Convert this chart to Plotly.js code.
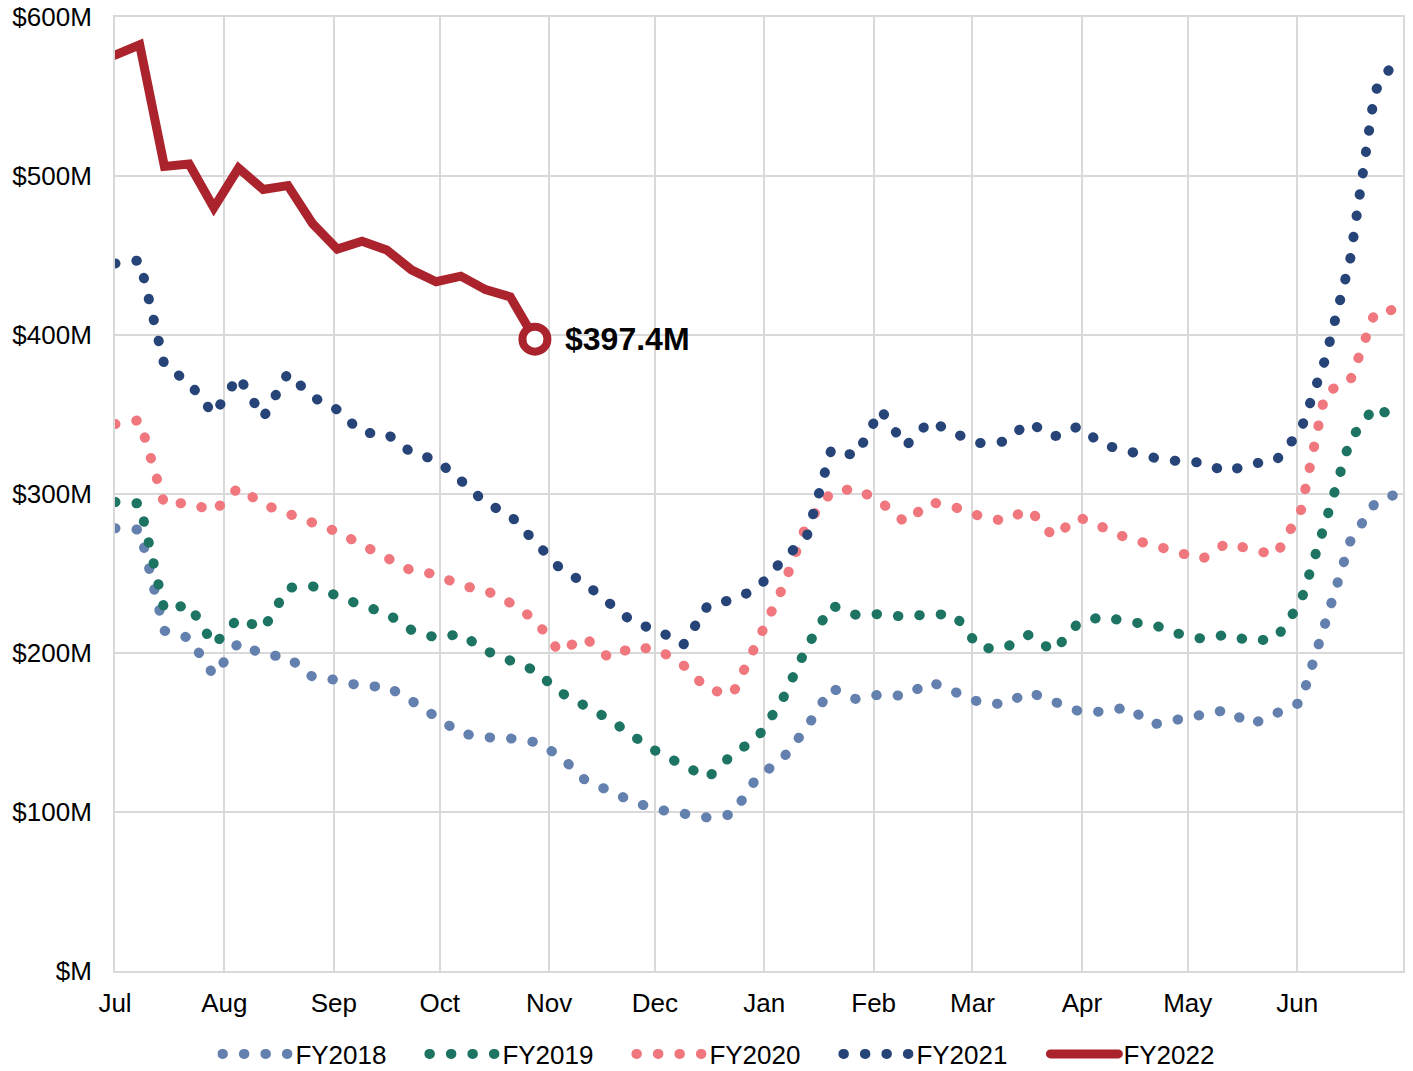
<!DOCTYPE html>
<html>
<head>
<meta charset="utf-8">
<script src="https://cdn.plot.ly/plotly-3.0.1.min.js"></script>
<style>
html, body { margin: 0; padding: 0; background: #ffffff; }
#chart { width: 1413px; height: 1071px; }
#chart .js-line { stroke-linecap: round !important; }
</style>
</head>
<body>
<div id="chart"></div>
<script>
// Weekly dates (fiscal year mapped onto Jul 2021 - Jun 2022)
const weekDates = [
  '2021-07-01','2021-07-08','2021-07-15','2021-07-22','2021-07-29',
  '2021-08-05','2021-08-12','2021-08-19','2021-08-26',
  '2021-09-02','2021-09-09','2021-09-16','2021-09-23','2021-09-30',
  '2021-10-07','2021-10-14','2021-10-21','2021-10-28',
  '2021-11-04','2021-11-11','2021-11-18','2021-11-25',
  '2021-12-02','2021-12-09','2021-12-16','2021-12-23','2021-12-30',
  '2022-01-06','2022-01-13','2022-01-20','2022-01-27',
  '2022-02-03','2022-02-10','2022-02-17','2022-02-24',
  '2022-03-03','2022-03-10','2022-03-17','2022-03-24','2022-03-31',
  '2022-04-07','2022-04-14','2022-04-21','2022-04-28',
  '2022-05-05','2022-05-12','2022-05-19','2022-05-26',
  '2022-06-02','2022-06-09','2022-06-16','2022-06-23','2022-06-30'
];

// Values in $M
const fy2018 = [278.5, 277.5, 214, 209.5, 186, 206.5, 199, 197.5, 185, 183, 179, 179, 170, 160,
  149.5, 147, 146.3, 144, 135.5, 120.5, 114, 106.2, 101.5, 98.5, 96.5, 98.5, 122,
  133, 153, 178, 171, 174, 173, 182, 175, 169, 167.8, 175.5, 169.5, 163.5, 163,
  166, 155, 157.8, 160, 164.2, 155, 162.3, 169, 219, 270, 294, 301];

const fy2019 = [295, 294, 227, 230.5, 205, 222, 215, 241, 242, 235.5, 229.8, 225, 214.5, 209.6,
  212, 201.5, 195, 189, 175.5, 166.5, 158.5, 147.5, 137.3, 129.6, 121.5, 136.3, 146.5,
  170, 203.5, 230, 224, 224.5, 222.7, 224.5, 224, 203, 203, 211.5, 201, 219, 223,
  219.5, 218, 212.3, 209, 211.5, 207.5, 209, 232, 282, 334, 355, 346];

const fy2020 = [344, 346.5, 293.5, 294.5, 289, 304, 293.5, 288, 282.6, 276.2, 268, 259.4, 251.8, 249.5,
  242.4, 239.5, 231.5, 221, 200.5, 210, 197, 204, 202, 192.5, 177, 174, 206,
  240, 281, 301.3, 303.5, 295, 282, 295, 291.7, 286.2, 283, 290.5, 273, 285.5, 279,
  272, 268, 264.3, 259, 269, 265, 261.5, 289, 364, 371, 414, 416.5];

const fy2021 = [445, 447, 381, 370, 350, 374, 348, 376, 361, 353, 338.5, 338, 326, 321.5,
  308.5, 294.5, 286.6, 270, 253.5, 244, 231.5, 219, 214.2, 205, 230, 233.5, 240.5,
  258, 273, 328, 324, 353, 330, 346, 338, 332, 333, 345, 336, 342.5, 331,
  326.5, 323, 320.7, 319.7, 314, 319, 321, 340, 385, 447, 553, 577];

const fy2022 = [576, 582.5, 506, 507.5, 480, 505, 491.5, 494, 470, 454, 459, 453.5, 441, 433.5,
  437, 428.5, 424, 397.4];

const monthTicks = ['2021-07-01','2021-08-01','2021-09-01','2021-10-01','2021-11-01','2021-12-01',
  '2022-01-01','2022-02-01','2022-03-01','2022-04-01','2022-05-01','2022-06-01'];
const monthLabels = ['Jul','Aug','Sep','Oct','Nov','Dec','Jan','Feb','Mar','Apr','May','Jun'];
const yTicks = [0, 100, 200, 300, 400, 500, 600];
const yLabels = ['$M','$100M','$200M','$300M','$400M','$500M','$600M'];

const fy2022Dates = weekDates.slice(0, fy2022.length);
const lastIdx = fy2022.length - 1;

const FONT = '"Liberation Sans", Arial, Helvetica, sans-serif';
const dotted = '0.5px,21px';

function dottedTrace(name, values, color) {
  return {
    type: 'scatter', mode: 'lines', name: name,
    x: weekDates.slice(0, values.length), y: values,
    line: { color: color, width: 10, dash: dotted },
    hoverinfo: 'skip'
  };
}

const traces = [
  dottedTrace('FY2018', fy2018, '#6480AE'),
  dottedTrace('FY2019', fy2019, '#1D7463'),
  dottedTrace('FY2020', fy2020, '#F0777D'),
  dottedTrace('FY2021', fy2021, '#264478'),
  {
    type: 'scatter', mode: 'lines', name: 'FY2022',
    x: fy2022Dates, y: fy2022,
    line: { color: '#AB232C', width: 9 },
    hoverinfo: 'skip'
  },
  {
    type: 'scatter', mode: 'markers', name: 'FY2022 latest', showlegend: false,
    x: [fy2022Dates[lastIdx]], y: [fy2022[lastIdx]],
    marker: { size: 25, color: '#ffffff', line: { color: '#AB232C', width: 8 } },
    hoverinfo: 'skip'
  }
];

const layout = {
  width: 1413, height: 1071,
  margin: { l: 115, r: 10, t: 17, b: 100, pad: 0, autoexpand: false },
  paper_bgcolor: '#ffffff', plot_bgcolor: '#ffffff',
  font: { family: FONT, size: 26, color: '#000000' },
  showlegend: true,
  legend: {
    orientation: 'h', x: 0.0795, xanchor: 'left', y: -0.087, yanchor: 'middle',
    font: { family: FONT, size: 26, color: '#000000' },
    itemwidth: 68, entrywidth: 124, entrywidthmode: 'pixels',
    traceorder: 'normal', bgcolor: 'rgba(0,0,0,0)'
  },
  xaxis: {
    type: 'date', range: ['2021-07-01', '2022-07-01'],
    tickmode: 'array', tickvals: monthTicks, ticktext: monthLabels,
    showgrid: true, gridcolor: '#d9d9d9', gridwidth: 2,
    showline: true, mirror: true, linecolor: '#d9d9d9', linewidth: 2,
    zeroline: false, ticks: '', ticklabelstandoff: 8,
    tickfont: { family: FONT, size: 26, color: '#000000' },
    fixedrange: true
  },
  yaxis: {
    range: [0, 600],
    tickmode: 'array', tickvals: yTicks, ticktext: yLabels,
    showgrid: true, gridcolor: '#d9d9d9', gridwidth: 2,
    showline: true, mirror: true, linecolor: '#d9d9d9', linewidth: 2,
    zeroline: false, ticks: '', ticklabelstandoff: 16,
    tickfont: { family: FONT, size: 26, color: '#000000' },
    fixedrange: true
  },
  annotations: [{
    x: fy2022Dates[lastIdx], y: fy2022[lastIdx], xref: 'x', yref: 'y',
    text: '<b>$' + fy2022[lastIdx].toFixed(1) + 'M</b>',
    showarrow: false, xanchor: 'left', yanchor: 'middle', xshift: 28,
    font: { family: FONT, size: 32, color: '#000000' }
  }]
};

Plotly.newPlot('chart', traces, layout, { displayModeBar: false, staticPlot: true });
</script>
</body>
</html>
